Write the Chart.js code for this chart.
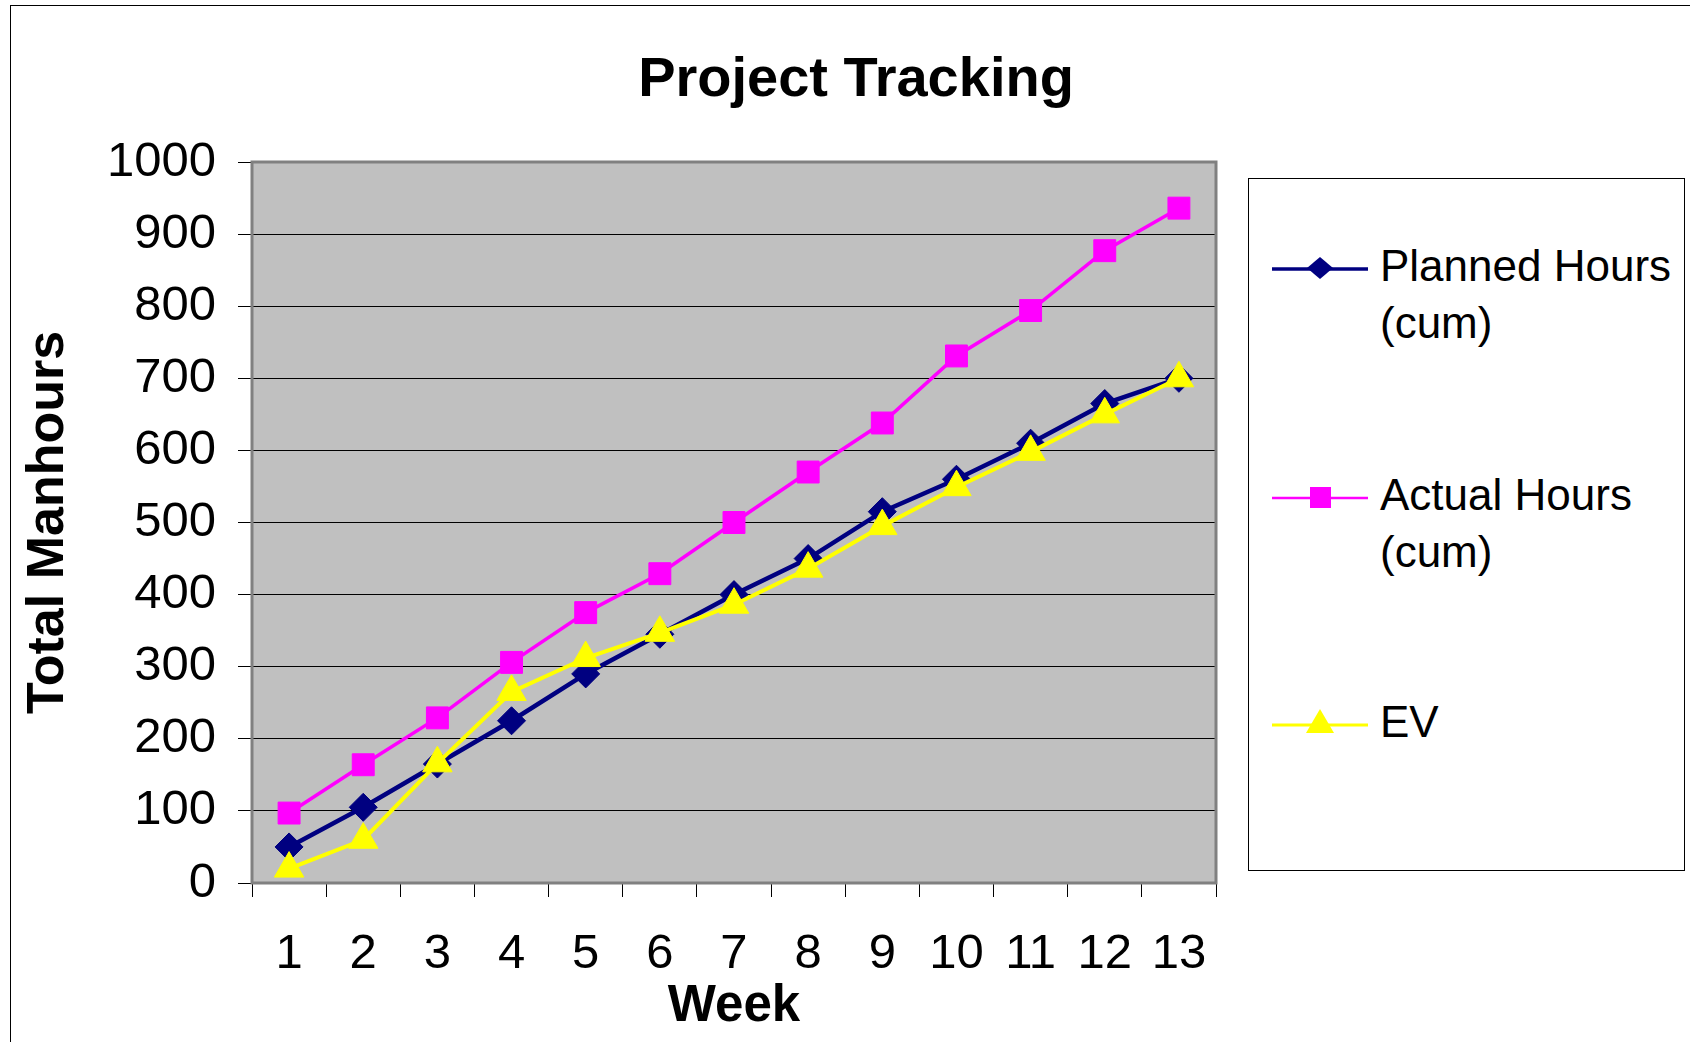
<!DOCTYPE html>
<html>
<head>
<meta charset="utf-8">
<title>Project Tracking</title>
<script src="https://cdn.jsdelivr.net/npm/chart.js@4.4.1/dist/chart.umd.min.js"></script>
<style>
  html, body { margin: 0; padding: 0; background: #fff; }
  body { width: 1690px; height: 1042px; position: relative; overflow: hidden; font-family: 'Liberation Sans', Arial, sans-serif; }
  #frame { position: absolute; left: 10px; top: 5px; right: -10px; bottom: -10px; border-left: 1.5px solid #000; border-top: 1.5px solid #000; }
  #chart { position: absolute; left: 0; top: 0; }
  #title { position: absolute; left: 506px; width: 700px; top: 41px; text-align: center; font-weight: bold; font-size: 56px; line-height: 72px; color: #000; }
  #legend { position: absolute; left: 1248px; top: 178px; width: 437px; height: 693px; border: 1.5px solid #000; box-sizing: border-box; background: #fff; }
  .item { position: absolute; left: 0; width: 435px; }
  .item svg { position: absolute; left: 23px; }
  .item .text { position: absolute; left: 131px; width: 300px; font-size: 44px; line-height: 57px; color: #000; }
</style>
</head>
<body>
<div id="frame"></div>
<canvas id="chart" width="1690" height="1042"></canvas>
<div id="title">Project Tracking</div>
<div id="legend"></div>
<script>
const weeks = ['1', '2', '3', '4', '5', '6', '7', '8', '9', '10', '11', '12', '13'];
const plannedHours = [50, 105, 165, 225, 290, 345, 400, 450, 515, 560, 610, 665, 700];
const actualHours = [97, 164, 229, 306, 375, 429, 500, 570, 638, 731, 794, 877, 936];
const earnedValue = [20, 60, 166, 265, 312, 347, 386, 436, 495, 549, 598, 650, 700];
const seriesLabels = ['Planned Hours (cum)', 'Actual Hours (cum)', 'EV'];
const seriesColors = ['#000080', '#FF00FF', '#FFFF00'];
const yMin = 0;
const yMax = 1000;
const yStep = 100;

Chart.defaults.font.family = "'Liberation Sans', Arial, sans-serif";
Chart.defaults.color = '#000';

// grey plot background and frame, like the old spreadsheet chart
const plotFrame = {
  id: 'plotFrame',
  beforeDraw(chart) {
    const { ctx, chartArea: a } = chart;
    ctx.save();
    ctx.fillStyle = '#C0C0C0';
    ctx.fillRect(a.left, a.top, a.right - a.left, a.bottom - a.top);
    ctx.restore();
  },
  beforeDatasetsDraw(chart) {
    const { ctx, chartArea: a } = chart;
    ctx.save();
    ctx.strokeStyle = '#808080';
    ctx.lineWidth = 3;
    ctx.strokeRect(a.left, a.top, a.right - a.left, a.bottom - a.top);
    ctx.restore();
  }
};

const ctx = document.getElementById('chart').getContext('2d');
const chart = new Chart(ctx, {
  type: 'line',
  data: {
    labels: weeks,
    datasets: [
      {
        label: seriesLabels[0],
        data: plannedHours,
        borderColor: seriesColors[0],
        backgroundColor: seriesColors[0],
        borderWidth: 4.5,
        pointStyle: 'rectRot',
        pointRadius: 14,
        pointBorderWidth: 1,
        order: 3,
      },
      {
        label: seriesLabels[1],
        data: actualHours,
        borderColor: seriesColors[1],
        backgroundColor: seriesColors[1],
        borderWidth: 3.5,
        pointStyle: 'rect',
        pointRadius: 15.5,
        pointBorderWidth: 1,
        order: 2,
      },
      {
        label: seriesLabels[2],
        data: earnedValue,
        borderColor: seriesColors[2],
        backgroundColor: seriesColors[2],
        borderWidth: 4,
        pointStyle: 'triangle',
        pointRadius: 17,
        pointBorderWidth: 1,
        order: 1,
      },
    ],
  },
  options: {
    responsive: false,
    animation: false,
    devicePixelRatio: 1,
    clip: false,
    tension: 0,
    layout: {
      padding: { left: 0, top: 162, right: 474, bottom: 0 },
    },
    plugins: {
      legend: { display: false },
      title: { display: false },
      tooltip: { enabled: false },
    },
    scales: {
      x: {
        type: 'category',
        offset: true,
        grid: {
          offset: true,
          drawOnChartArea: false,
          drawTicks: true,
          tickLength: 14,
          color: '#000',
          lineWidth: 1,
        },
        border: { display: false },
        ticks: {
          font: { size: 49 },
          padding: 28,
          autoSkip: false,
          maxRotation: 0,
        },
        title: {
          display: true,
          text: 'Week',
          font: { size: 51, weight: 'bold' },
          padding: { top: 0, bottom: 4 },
        },
        afterFit(scale) {
          scale.height = 159;
        },
      },
      y: {
        min: yMin,
        max: yMax,
        grid: {
          color: '#000',
          lineWidth: 1,
          tickLength: 14,
        },
        border: { display: false },
        ticks: {
          stepSize: yStep,
          font: { size: 49 },
          padding: 22,
          callback: (value) => String(value),
        },
        title: {
          display: true,
          text: 'Total Manhours',
          font: { size: 52, weight: 'bold' },
          padding: { top: 17, bottom: 0 },
        },
        afterFit(scale) {
          scale.width = 252;
        },
      },
    },
  },
  plugins: [plotFrame],
});

// legend: line sample with marker, label wrapping onto two lines
const legendBox = document.getElementById('legend');
const legendRows = [58, 287, 514];
chart.data.datasets.forEach((ds, i) => {
  const item = document.createElement('div');
  item.className = 'item';
  item.style.top = legendRows[i] + 'px';
  let marker = '';
  if (ds.pointStyle === 'rectRot') {
    marker = '<polygon points="48,20 61,31 48,42 35,31" fill="' + ds.borderColor + '"/>';
  } else if (ds.pointStyle === 'rect') {
    marker = '<rect x="38" y="21" width="21" height="21" fill="' + ds.borderColor + '"/>';
  } else {
    marker = '<polygon points="48,16 62,40 34,40" fill="' + ds.borderColor + '"/>';
  }
  item.innerHTML =
    '<svg width="98" height="60" style="top:0">' +
    '<line x1="0" y1="32" x2="96" y2="32" stroke="' + ds.borderColor + '" stroke-width="' + (ds.borderWidth - 1) + '"/>' +
    marker + '</svg>' +
    '<div class="text">' + ds.label + '</div>';
  legendBox.appendChild(item);
});
</script>
</body>
</html>
